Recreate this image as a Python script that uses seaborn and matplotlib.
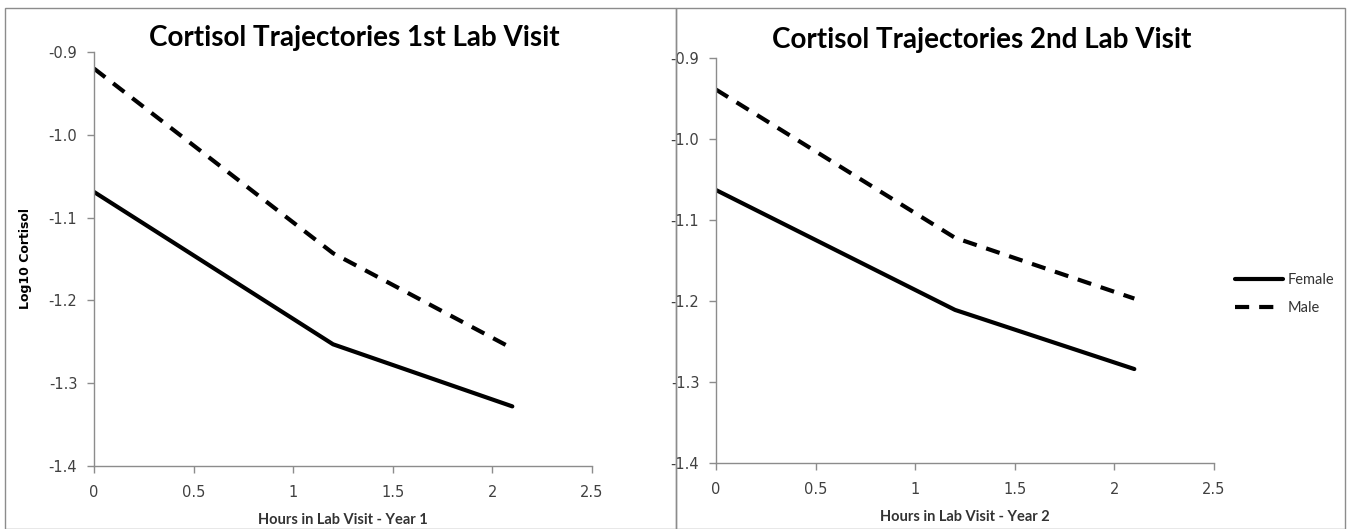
import matplotlib
matplotlib.use("Agg")
import matplotlib.pyplot as plt
import seaborn as sns
import pandas as pd
from matplotlib.patches import Rectangle
from matplotlib.lines import Line2D

# ---- data ----
hours = [0, 1.2, 2.1]
female_v1 = [-1.069, -1.253, -1.328]
male_v1 = [-0.920, -1.143, -1.258]
female_v2 = [-1.063, -1.211, -1.284]
male_v2 = [-0.939, -1.122, -1.197]
titles = ["Cortisol Trajectories 1st Lab Visit", "Cortisol Trajectories 2nd Lab Visit"]
xlabels = ["Hours in Lab Visit - Year 1", "Hours in Lab Visit - Year 2"]
ylabel = "Log10 Cortisol"
groups = ["Female", "Male"]
xticks = [0, 0.5, 1, 1.5, 2, 2.5]
xticklabels = ["0", "0.5", "1", "1.5", "2", "2.5"]
yticks = [-1.4, -1.3, -1.2, -1.1, -1.0, -0.9]

sns.set_theme(style="white")
plt.rcParams['font.family'] = ['Lato', 'DejaVu Sans']

def make_df(f, m):
    return pd.DataFrame({
        "hours": hours + hours,
        "value": f + m,
        "sex": [groups[0]] * len(hours) + [groups[1]] * len(hours),
    })

dfs = [make_df(female_v1, male_v1), make_df(female_v2, male_v2)]

fig = plt.figure(figsize=(13.5, 5.29), dpi=100)
W, H = 1350, 529
# panel borders
for (x0, x1) in [(5, 676), (676, 1345)]:
    fig.patches.append(Rectangle((x0 / W, 0), (x1 - x0) / W, (H - 8) / H,
                                 transform=fig.transFigure, fill=False,
                                 edgecolor="#8c8c8c", linewidth=1.0))

axes_pos = [
    [94 / W, 1 - 466 / H, 498 / W, (466 - 52) / H],
    [716 / W, 1 - 463 / H, 498 / W, (463 - 58) / H],
]
title_x = [354 / W, 982 / W]
title_y = [1 - 38 / H, 1 - 40 / H]

for i, df in enumerate(dfs):
    ax = fig.add_axes(axes_pos[i])
    sns.lineplot(data=df, x="hours", y="value", style="sex",
                 style_order=groups, dashes={"Female": "", "Male": (3.4, 2.4)},
                 color="black", linewidth=3, ax=ax, legend=False)
    ax.set_xlim(0, 2.5)
    ax.set_ylim(-1.4, -0.9)
    ax.set_xticks(xticks)
    ax.set_xticklabels(xticklabels)
    ax.set_yticks(yticks)
    ax.set_yticklabels([f"{v:.1f}" for v in yticks])
    for s in ["top", "right"]:
        ax.spines[s].set_visible(False)
    for s in ["left", "bottom"]:
        ax.spines[s].set_color("#8c8c8c")
        ax.spines[s].set_linewidth(1.0)
    ax.tick_params(axis="both", direction="out", length=5, width=1,
                   color="#8c8c8c", labelsize=10.5, labelcolor="#404040",
                   left=True, bottom=True)
    ax.tick_params(axis="x", pad=9)
    ax.tick_params(axis="y", pad=7)
    for lab in ax.get_xticklabels() + ax.get_yticklabels():
        lab.set_family("DejaVu Sans")
    ax.set_xlabel(xlabels[i], fontsize=10.5, fontweight="bold", color="#333333", labelpad=9)
    if i == 0:
        ax.set_ylabel(ylabel, fontsize=9, fontweight="bold", color="black",
                      labelpad=12, family="DejaVu Sans")
    else:
        ax.set_ylabel("")
    ax.patch.set_alpha(0)
    fig.text(title_x[i], title_y[i], titles[i], ha="center", va="center",
             fontsize=20, fontweight="bold", color="black")

handles = [Line2D([0], [0], color="black", lw=3, linestyle="-"),
           Line2D([0], [0], color="black", lw=3, dashes=(3.4, 2.4))]
fig.legend(handles, groups, loc="center left", bbox_to_anchor=(1222 / W, 1 - 294 / H),
           frameon=False, fontsize=10.5, handlelength=3.3, labelspacing=1.0,
           handletextpad=0.3, labelcolor="#333333")

fig.savefig("out.png", dpi=100)
